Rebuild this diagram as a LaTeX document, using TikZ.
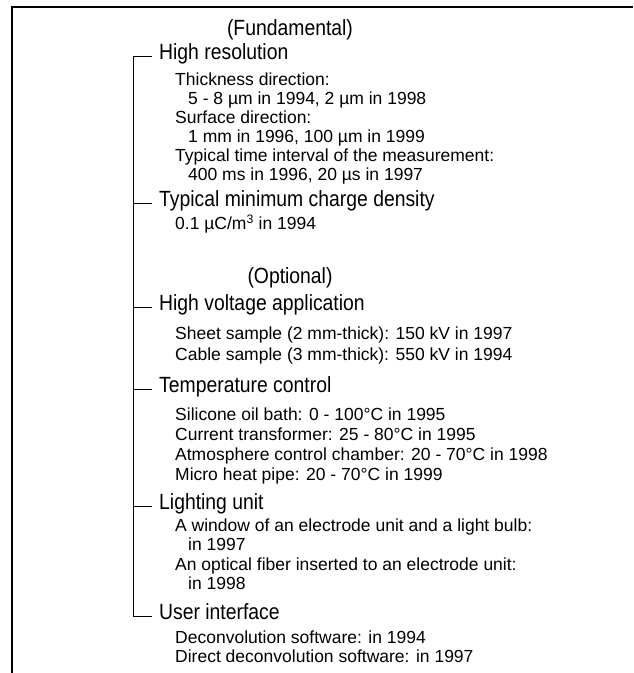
\documentclass[tikz,border=0pt]{standalone}
\usepackage{fontspec}
\setmainfont{Liberation Sans}
\newfontfamily\headfont[FakeStretch=0.88]{Liberation Sans}
\usetikzlibrary{positioning}

\begin{document}
\begin{tikzpicture}[x=1pt, y=-1pt,
    frame/.style={line width=1.3pt},
    tree/.style={line width=0.9pt},
    title/.style={font=\headfont\fontsize{22}{26}\selectfont, inner sep=0pt},
    head/.style={font=\headfont\fontsize{22}{26}\selectfont, anchor=west,
      inner xsep=7pt, inner ysep=0pt, text height=.72em, text depth=0pt},
    item/.style={font=\fontsize{17.5}{20}\selectfont, anchor=west,
      inner sep=0pt, text height=.72em, text depth=0pt}]
  \useasboundingbox (0,0) rectangle (633,673);

  % open frame
  \draw[frame] (633,7) -- (12,7) -- (12,673);

  % fundamental part
  \node[title] (fund) at (290,30) {(Fundamental)};
  \node[head] (hr) at (152,56) {High resolution};
  \node[item] (hr1) at (175,82) {Thickness direction:};
  \node[item] (hr1a) at (188,101) {5 - 8 µm in 1994, 2 µm in 1998};
  \node[item] (hr2) at (175,120) {Surface direction:};
  \node[item] (hr2a) at (188,139) {1 mm in 1996, 100 µm in 1999};
  \node[item] (hr3) at (175,158) {Typical time interval of the measurement:};
  \node[item] (hr3a) at (188,177) {400 ms in 1996, 20 µs in 1997};
  \node[head] (tmcd) at (152,203) {Typical minimum charge density};
  \node[item] (tmcd1) at (175,226) {0.1 µC/m\textsuperscript{3} in 1994};

  % optional part
  \node[title] (opt) at (290,278) {(Optional)};
  \node[head] (hva) at (152,307) {High voltage application};
  \node[item] (hva1) at (175,336) {Sheet sample (2 mm-thick): 150 kV in 1997};
  \node[item] (hva2) at (175,357) {Cable sample (3 mm-thick): 550 kV in 1994};
  \node[head] (temp) at (152,389) {Temperature control};
  \node[item] (temp1) at (175,417) {Silicone oil bath: 0 - 100°C in 1995};
  \node[item] (temp2) at (175,437) {Current transformer: 25 - 80°C in 1995};
  \node[item] (temp3) at (175,457) {Atmosphere control chamber: 20 - 70°C in 1998};
  \node[item] (temp4) at (175,477) {Micro heat pipe: 20 - 70°C in 1999};
  \node[head] (light) at (152,506) {Lighting unit};
  \node[item] (light1) at (175,528) {A window of an electrode unit and a light bulb:};
  \node[item] (light1a) at (188,547) {in 1997};
  \node[item] (light2) at (175,567) {An optical fiber inserted to an electrode unit:};
  \node[item] (light2a) at (188,586) {in 1998};
  \node[head] (ui) at (152,616) {User interface};
  \node[item] (ui1) at (175,640) {Deconvolution software: in 1994};
  \node[item] (ui2) at (175,659) {Direct deconvolution software: in 1997};

  % tree
  \draw[tree] (hr.west) -- ++(-19,0) |- (ui.west);
  \foreach \n in {tmcd, hva, temp, light}
    \draw[tree] (\n.west) -- ++(-19,0);
\end{tikzpicture}
\end{document}
